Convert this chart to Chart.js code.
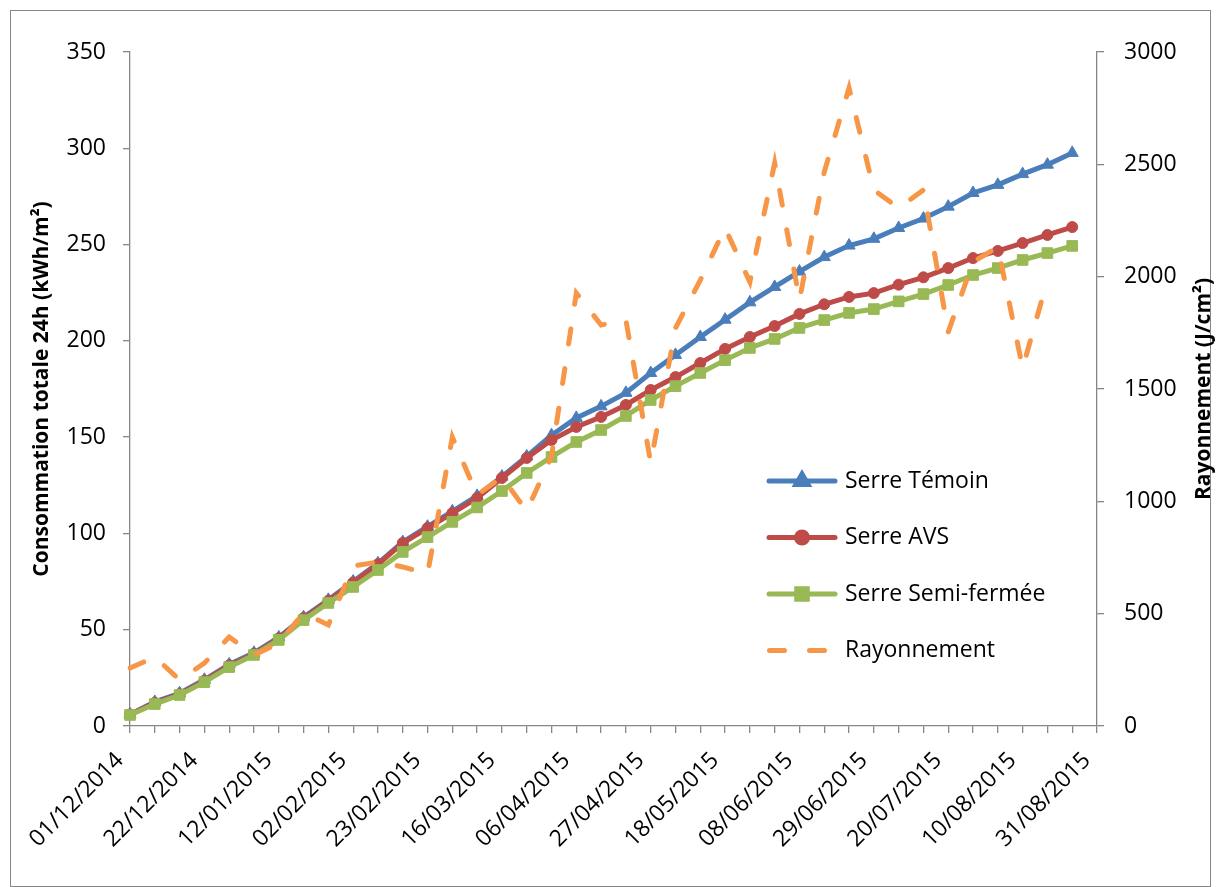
<!DOCTYPE html>
<html>
<head>
<meta charset="utf-8">
<script src="https://cdn.jsdelivr.net/npm/chart.js@4.4.0/dist/chart.umd.min.js"></script>
<style>
    body { margin: 0; background: #fff; }
    #frame { position: absolute; left: 10px; top: 10px; width: 1201px; height: 877px; border: 1px solid #878787; box-sizing: border-box; }
    #chart { position: absolute; left: 0; top: 0; }
</style>
</head>
<body>
<div id="frame"></div>
<canvas id="chart" width="1216" height="887"></canvas>
<script>
// Weekly readings, first week starting 01/12/2014
const startDay = { year: 2014, month: 11, day: 1 };
const weekCount = 40; // axis runs to 31/08/2015

// Consommation totale 24h (kWh/m²)
const serreTemoin = [6, 12.5, 17, 24, 32, 38, 46, 56.5, 65.5, 75, 84.5, 95.5, 103.5, 111.5, 119.5, 129.5, 140, 151, 160, 166, 173, 183.3, 192.7, 202, 211, 220, 228, 236, 243.5, 249.5, 253, 258.6, 263.5, 269.7, 276.8, 281, 286.6, 291.5, 297.6];
const serreAVS = [6, 12, 16.5, 23.5, 31.5, 37.5, 45.5, 56, 65, 74.5, 84, 95, 102.8, 110.6, 118.4, 128.8, 139.2, 148.5, 155.3, 160.5, 166.7, 174.5, 181.2, 188.5, 195.8, 202, 207.7, 214, 219, 222.8, 224.8, 229.2, 233, 237.8, 243, 246.7, 250.8, 255, 259.1];
const serreSemiFermee = [5.7, 11.4, 16.1, 22.8, 30.6, 36.9, 44.7, 55, 63.9, 72.2, 81, 90.4, 98.1, 106, 113.5, 122, 131.4, 139.7, 147.5, 153.7, 161, 169.3, 176.5, 183.3, 190, 196.3, 201, 206.7, 210.8, 214.5, 216.5, 220.5, 224.3, 229, 234.2, 237.8, 242, 245.6, 249.3];
// Rayonnement (J/cm²), secondary axis
const rayonnement = [258, 307, 205, 280, 396, 316, 369, 503, 450, 712, 730, 708, 677, 1286, 1028, 1108, 957, 1200, 1927, 1785, 1807, 1171, 1771, 1985, 2217, 1976, 2506, 1896, 2466, 2840, 2386, 2306, 2386, 1754, 2065, 2132, 1593, 1985, null];

const leftTitle = 'Consommation totale 24h (kWh/m²)';
const rightTitle = 'Rayonnement (J/cm²)';

const colors = {
    temoin: '#4a7ebb',
    avs: '#be4b48',
    semi: '#98b954',
    ray: '#f79646',
    axis: '#868686'
};

const weekLabels = [];
for (let i = 0; i < weekCount; i++) {
    const d = new Date(startDay.year, startDay.month, startDay.day + i * 7);
    weekLabels.push(String(d.getDate()).padStart(2, '0') + '/' + String(d.getMonth() + 1).padStart(2, '0') + '/' + d.getFullYear());
}

const legendItems = [
    { label: 'Serre Témoin', color: colors.temoin, pointStyle: 'triangle', radius: 7 },
    { label: 'Serre AVS', color: colors.avs, pointStyle: 'circle', radius: 5.5 },
    { label: 'Serre Semi-fermée', color: colors.semi, pointStyle: 'rect', radius: 7.5 },
    { label: 'Rayonnement', color: colors.ray, dashed: true }
];

const FONT = '"Open Sans", "Noto Sans", sans-serif';

// legend inside the plot and the upright right-hand title
const extrasPlugin = {
    id: 'extras',
    afterDraw(chart) {
        const ctx = chart.ctx;
        ctx.save();
        legendItems.forEach((item, i) => {
            const y = 481 + i * 56.5;
            ctx.strokeStyle = item.color;
            ctx.lineWidth = 5;
            ctx.lineCap = 'round';
            ctx.beginPath();
            if (item.dashed) {
                ctx.setLineDash([15, 25]);
                ctx.moveTo(769.5, y);
                ctx.lineTo(835, y);
            } else {
                ctx.setLineDash([]);
                ctx.moveTo(769, y);
                ctx.lineTo(835, y);
            }
            ctx.stroke();
            ctx.setLineDash([]);
            if (item.pointStyle) {
                ctx.fillStyle = item.color;
                ctx.strokeStyle = item.color;
                Chart.helpers.drawPoint(ctx, { pointStyle: item.pointStyle, radius: item.radius, rotation: 0, borderWidth: 1 }, 802, y);
            }
            ctx.fillStyle = '#000';
            ctx.font = '23px ' + FONT;
            ctx.textAlign = 'left';
            ctx.textBaseline = 'middle';
            ctx.fillText(item.label, 845, y);
        });

        ctx.translate(1204, (chart.chartArea.top + chart.chartArea.bottom) / 2);
        ctx.rotate(-Math.PI / 2);
        ctx.font = 'bold 21px ' + FONT;
        ctx.textAlign = 'center';
        ctx.textBaseline = 'middle';
        ctx.fillStyle = '#000';
        ctx.fillText(rightTitle, 0, 0);
        ctx.restore();
    }
};

function lineDataset(label, data, color, pointStyle, radius, order) {
    return {
        label: label,
        data: data,
        yAxisID: 'y',
        borderColor: color,
        backgroundColor: color,
        borderWidth: 5,
        pointStyle: pointStyle,
        pointRadius: radius,
        pointBorderWidth: 1,
        tension: 0,
        order: order
    };
}

new Chart(document.getElementById('chart'), {
    type: 'line',
    data: {
        labels: weekLabels,
        datasets: [
            lineDataset('Serre Témoin', serreTemoin, colors.temoin, 'triangle', 7, 4),
            lineDataset('Serre AVS', serreAVS, colors.avs, 'circle', 5.5, 3),
            lineDataset('Serre Semi-fermée', serreSemiFermee, colors.semi, 'rect', 7.5, 2),
            {
                label: 'Rayonnement',
                data: rayonnement,
                yAxisID: 'y1',
                borderColor: colors.ray,
                backgroundColor: colors.ray,
                borderWidth: 5,
                borderDash: [15, 25],
                borderCapStyle: 'round',
                pointRadius: 0,
                tension: 0,
                spanGaps: false,
                order: 1
            }
        ]
    },
    options: {
        responsive: false,
        animation: false,
        layout: { padding: { top: 52, left: 0, right: 0, bottom: 0 } },
        plugins: {
            legend: { display: false },
            tooltip: { enabled: false }
        },
        scales: {
            x: {
                type: 'category',
                offset: false,
                grid: { drawOnChartArea: false, drawTicks: true, tickLength: 7, color: colors.axis, lineWidth: 1.3 },
                border: { color: colors.axis, width: 1.3 },
                ticks: {
                    autoSkip: false,
                    minRotation: 45,
                    maxRotation: 45,
                    padding: 14,
                    labelOffset: -10,
                    color: '#000',
                    font: { family: FONT, size: 23 },
                    callback: function(value, index) {
                        return index % 3 === 0 ? weekLabels[index] : '';
                    }
                },
                afterFit(scale) { scale.height = 887 - 726; }
            },
            y: {
                position: 'left',
                min: 0,
                max: 350,
                grid: { drawOnChartArea: false, drawTicks: true, tickLength: 7, color: colors.axis, lineWidth: 1.3 },
                border: { color: colors.axis, width: 1.3 },
                ticks: { stepSize: 50, padding: 17, color: '#000', font: { family: FONT, size: 23 } },
                title: { display: true, text: leftTitle, color: '#000', font: { family: FONT, size: 21, weight: 'bold' }, padding: { top: 29, bottom: 0 } },
                afterFit(scale) { scale.width = 130; }
            },
            y1: {
                position: 'right',
                min: 0,
                max: 3000,
                grid: { drawOnChartArea: false, drawTicks: true, tickLength: 7, color: colors.axis, lineWidth: 1.3 },
                border: { color: colors.axis, width: 1.3 },
                ticks: {
                    stepSize: 500,
                    padding: 20,
                    color: '#000',
                    font: { family: FONT, size: 23 },
                    callback: function(value) { return String(value); }
                },
                afterFit(scale) { scale.width = 1216 - 1097; }
            }
        }
    },
    plugins: [extrasPlugin]
});
</script>
</body>
</html>
